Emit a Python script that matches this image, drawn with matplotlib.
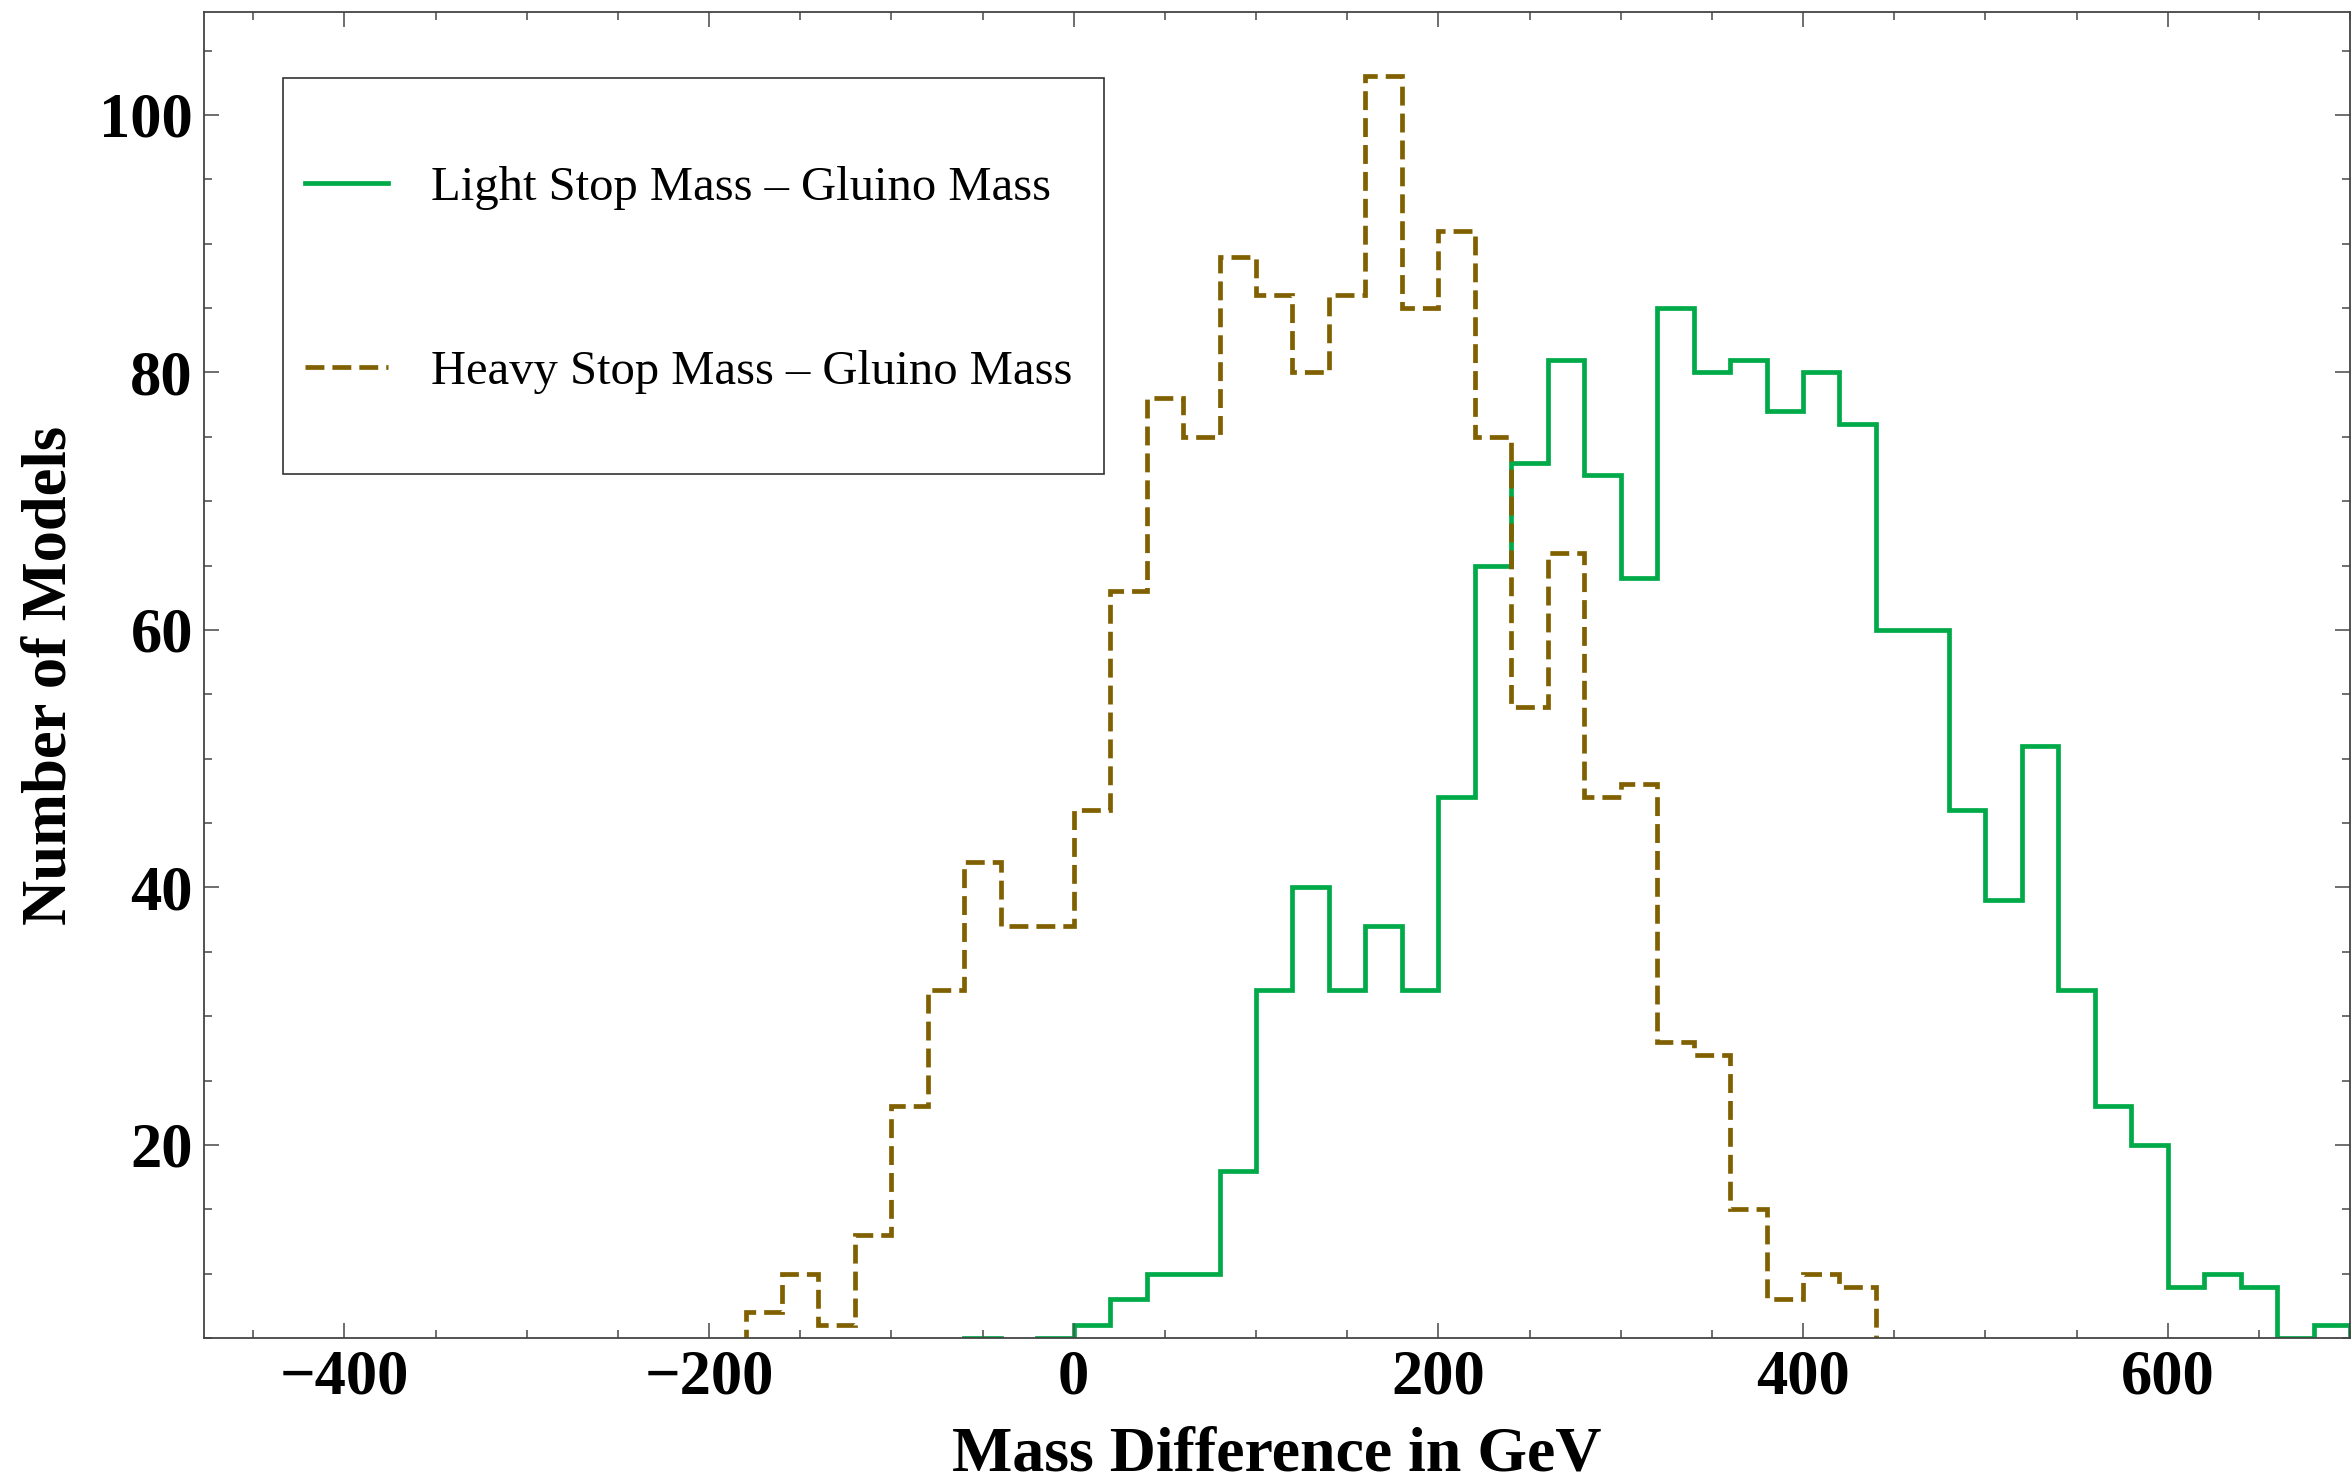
import numpy as np
import matplotlib
matplotlib.use('Agg')
import matplotlib.pyplot as plt
from matplotlib.ticker import MultipleLocator
from matplotlib.patches import Rectangle

plt.rcParams['font.family'] = ['Liberation Serif', 'DejaVu Serif']
plt.rcParams['axes.unicode_minus'] = True

# histogram bins are 20 GeV wide
light_edges = np.arange(-60, 701, 20)
light_counts = [5, 3, 5, 6, 8, 10, 10, 18, 32, 40, 32, 37, 32, 47, 65, 73, 81, 72, 64,
                85, 80, 81, 77, 80, 76, 60, 60, 46, 39, 51, 32, 23, 20, 9, 10, 9, 5, 6]

heavy_edges = np.arange(-180, 441, 20)
heavy_counts = [7, 10, 6, 13, 23, 32, 42, 37, 37, 46, 63, 78, 75, 89, 86, 80, 86, 103,
                85, 91, 75, 54, 66, 47, 48, 28, 27, 15, 8, 10, 9]

labels = ["Light Stop Mass \u2013 Gluino Mass", "Heavy Stop Mass \u2013 Gluino Mass"]
green = '#00aa48'
brown = '#806000'

W, H = 2351, 1481
fig = plt.figure(figsize=(W/100, H/100), dpi=100)
ax = fig.add_axes([204/W, 1 - 1338/H, (2350 - 204)/W, (1338 - 12)/H])

ax.stairs(light_counts, light_edges, baseline=0, color=green, linewidth=3.4,
          label=labels[0])
ax.stairs(heavy_counts, heavy_edges, baseline=0, color=brown, linewidth=3.4,
          linestyle=(0, (4.0, 1.7)), label=labels[1])

ax.set_xlim(-477, 700)
ax.set_ylim(5, 108)

ax.xaxis.set_major_locator(MultipleLocator(200))
ax.xaxis.set_minor_locator(MultipleLocator(50))
ax.yaxis.set_major_locator(MultipleLocator(20))
ax.yaxis.set_minor_locator(MultipleLocator(5))
ax.tick_params(which='both', direction='in', top=True, right=True, color='#555555', width=1.2)
ax.tick_params(which='major', length=11, labelsize=45, pad=8)
ax.tick_params(which='minor', length=6)
for lab in ax.get_xticklabels() + ax.get_yticklabels():
    lab.set_fontweight('bold')
for sp in ax.spines.values():
    sp.set_color('#444444')
    sp.set_linewidth(1.3)

ax.set_xlabel('Mass Difference in GeV', fontsize=46, fontweight='bold', labelpad=14)
ax.set_ylabel('Number of Models', fontsize=45, fontweight='bold', labelpad=14)

leg = ax.legend(loc='upper left', bbox_to_anchor=(305/W, 1 - 166/H),
                bbox_transform=fig.transFigure, frameon=False, fontsize=35,
                borderpad=0, borderaxespad=0, handlelength=1.7, handletextpad=0.9,
                labelspacing=2.88)
fig.patches.append(Rectangle((283/W, 1 - 474/H), (1104 - 283)/W, (474 - 78)/H,
                             transform=fig.transFigure, fill=False,
                             edgecolor='#333333', linewidth=1.2))

fig.savefig('out.png', dpi=100)
